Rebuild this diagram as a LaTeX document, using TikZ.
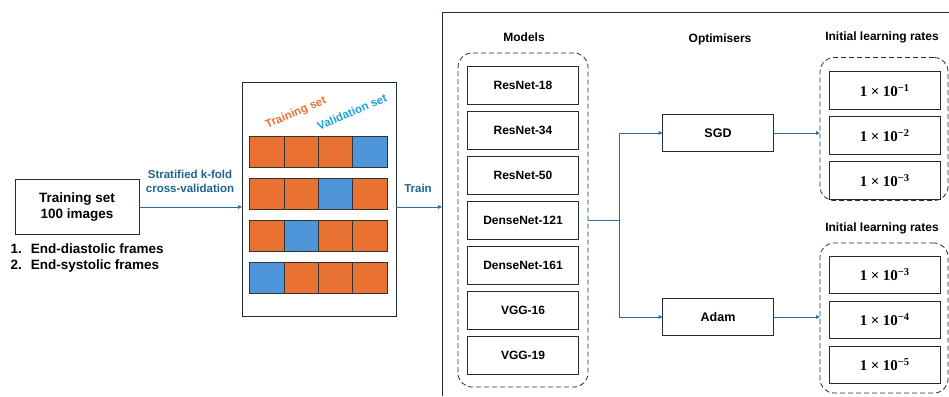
\documentclass[tikz,border=0pt]{standalone}
\usepackage{fontspec}
\setmainfont{Liberation Sans}
\newfontfamily\rateserif{Liberation Serif}
\usetikzlibrary{positioning}
\usetikzlibrary{arrows.meta}
\definecolor{boxgrey}{RGB}{35,45,55}
\definecolor{linkblue}{RGB}{40,110,150}
\definecolor{labelblue}{RGB}{30,100,140}
\definecolor{trainorange}{RGB}{233,113,50}
\definecolor{valblue}{RGB}{78,149,217}
\definecolor{valtext}{RGB}{30,160,218}
\newcommand{\lrate}[1]{{\rateserif\bfseries 1\hspace{3.5pt}×\hspace{3.5pt}10\raisebox{0.75ex}{\fontsize{10.5}{11}\selectfont −#1}}}

\begin{document}
\begin{tikzpicture}[x=1pt, y=-1pt,
    box/.style={draw=boxgrey, line width=0.8pt, inner sep=0pt, outer sep=0pt, align=center, font=\bfseries\fontsize{12}{14}\selectfont},
    modelbox/.style={box, minimum width=111pt, minimum height=37.6pt},
    ratebox/.style={box, minimum width=111pt, minimum height=37.6pt, font=\fontsize{15}{17}\selectfont},
    group/.style={draw=boxgrey, dash pattern=on 5pt off 3pt, rounded corners=14pt, line width=0.8pt, inner sep=0pt, outer sep=0pt},
    cell/.style={draw=black!80, line width=0.8pt, minimum width=34.3pt, minimum height=30.5pt, inner sep=0pt, outer sep=0pt},
    link/.style={draw=linkblue, line width=0.8pt, -{Triangle[length=4pt, width=3.5pt]}},
    heading/.style={font=\bfseries\fontsize{12}{14}\selectfont},
    steplabel/.style={text=labelblue, align=center, font=\bfseries\fontsize{11.5}{14}\selectfont},
    setlabel/.style={rotate=23, inner sep=0pt, font=\bfseries\fontsize{11.5}{14}\selectfont},
]
    \useasboundingbox (0,0) rectangle (949,396);

    % input data
    \node[box, minimum width=124pt, minimum height=55pt, font=\bfseries\fontsize{13.5}{16}\selectfont] (trainset) at (77,207) {Training set\\100 images};
    \node[anchor=west, font=\bfseries\fontsize{13.5}{16}\selectfont] (items) at (7,258) {\begin{tabular}{@{}l@{\hspace{9pt}}l@{}}1. & End-diastolic frames\\2. & End-systolic frames\end{tabular}};

    % k-fold split
    \node[box, minimum width=154pt, minimum height=234pt] (folds) at (319,199) {};
    \node[setlabel, text=trainorange] (trainlabel) at (296,113) {Training set};
    \node[setlabel, text=valtext] (vallabel) at (352,112) {Validation set};
    \foreach \r/\v in {1/4,2/3,3/2,4/1}{
        \foreach \c in {1,...,4}{
            \ifnum\c=\v \def\cellcol{valblue}\else \def\cellcol{trainorange}\fi
            \node[cell, fill=\cellcol] (cell-\r-\c) at ({267+34.3*(\c-1)},{152+42*(\r-1)}) {};
        }
    }

    \draw[link] (trainset.east) -- (trainset.east -| folds.west);
    \node[steplabel] (strat) at (190,181) {Stratified k-fold\\cross-validation};

    % training frame
    \draw[boxgrey, line width=0.8pt] (442,396) -- (442,12) -- (949,12);
    \draw[link] (folds.east |- trainset.east) -- (442,207) coordinate (frameleft);
    \node[steplabel] (trainword) at (418,188) {Train};

    % models
    \node[heading] (modelshead) at (524,37) {Models};
    \node[group, minimum width=130pt, minimum height=334pt] (models) at (523,220) {};
    \node[modelbox] (m1) at (523,85.5) {ResNet-18};
    \node[modelbox, below = 7.4pt of m1] (m2) {ResNet-34};
    \node[modelbox, below = 7.4pt of m2] (m3) {ResNet-50};
    \node[modelbox, below = 7.4pt of m3] (m4) {DenseNet-121};
    \node[modelbox, below = 7.4pt of m4] (m5) {DenseNet-161};
    \node[modelbox, below = 7.4pt of m5] (m6) {VGG-16};
    \node[modelbox, below = 7.4pt of m6] (m7) {VGG-19};

    % optimisers
    \node[heading] (opthead) at (720,39) {Optimisers};
    \node[box, minimum width=111pt, minimum height=37.6pt, font=\bfseries\fontsize{12.5}{14}\selectfont] (sgd) at (718,133) {SGD};
    \node[box, minimum width=111pt, minimum height=37.6pt, font=\bfseries\fontsize{12.5}{14}\selectfont] (adam) at (718,317) {Adam};

    \draw[draw=linkblue, line width=0.8pt] (models.east) -- ++(31,0) coordinate (split);
    \draw[link] (split) |- (sgd.west);
    \draw[link] (split) |- (adam.west);

    % learning rates
    \node[heading] (lrhead1) at (882,37) {Initial learning rates};
    \node[group, minimum width=128pt, minimum height=143pt] (lrgroup1) at (884,129) {};
    \node[ratebox] (lr1) at (884.5,90.5) {\lrate{1}};
    \node[ratebox, below = 7.4pt of lr1] (lr2) {\lrate{2}};
    \node[ratebox, below = 7.4pt of lr2] (lr3) {\lrate{3}};

    \node[heading] (lrhead2) at (882,228) {Initial learning rates};
    \node[group, minimum width=128pt, minimum height=150pt] (lrgroup2) at (884,318) {};
    \node[ratebox] (lr4) at (884.5,274.7) {\lrate{3}};
    \node[ratebox, below = 7.4pt of lr4] (lr5) {\lrate{4}};
    \node[ratebox, below = 7.4pt of lr5] (lr6) {\lrate{5}};

    \draw[link] (sgd.east) -- (sgd.east -| lrgroup1.west);
    \draw[link] (adam.east) -- (adam.east -| lrgroup2.west);
\end{tikzpicture}
\end{document}
